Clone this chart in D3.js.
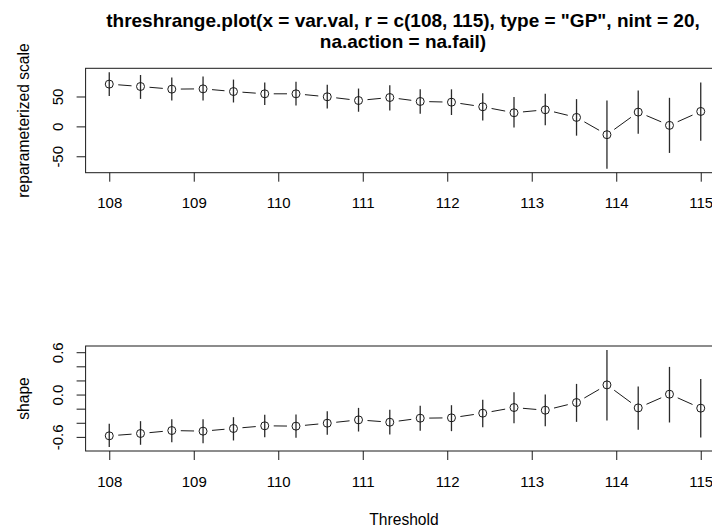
<!DOCTYPE html>
<html>
<head>
<meta charset="utf-8">
<script src="https://cdn.jsdelivr.net/npm/d3@7"></script>
<style>
  html, body { margin: 0; padding: 0; background: #fff; }
  svg text { font-family: "Liberation Sans", Arial, Helvetica, sans-serif; fill: #000; }
</style>
</head>
<body>
<svg id="chart" width="712" height="530"></svg>
<script>
// ---- data ----
const thresholds = [108.00, 108.37, 108.74, 109.11, 109.47, 109.84, 110.21, 110.58, 110.95, 111.32,
                    111.68, 112.05, 112.42, 112.79, 113.16, 113.53, 113.89, 114.26, 114.63, 115.00];
const scaleEst   = [70.7, 66.7, 62.3, 62.8, 58.3, 54.5, 54.5, 49.5, 43.3, 48.3,
                    41.7, 40.5, 32.8, 22.8, 27.8, 15.0, -13.9, 23.9, 1.7, 25.0];
const scaleLow   = [51.0, 46.0, 43.3, 43.3, 40.0, 35.6, 35.0, 30.0, 24.5, 26.7,
                    21.0, 19.0, 10.0, -1.7, 1.7, -15.5, -71.0, -12.2, -44.4, -23.9];
const scaleHigh  = [90.7, 86.0, 81.7, 83.3, 78.3, 73.3, 74.5, 69.5, 63.3, 69.0,
                    62.2, 62.0, 55.6, 49.0, 54.5, 45.6, 43.3, 60.0, 47.8, 73.3];
const shapeEst   = [-0.585, -0.552, -0.510, -0.519, -0.481, -0.443, -0.448, -0.406, -0.359, -0.392,
                    -0.335, -0.330, -0.264, -0.184, -0.222, -0.113, 0.137, -0.189, 0.005, -0.193];
const shapeLow   = [-0.745, -0.712, -0.675, -0.689, -0.651, -0.604, -0.613, -0.571, -0.524, -0.566,
                    -0.514, -0.519, -0.462, -0.406, -0.448, -0.387, -0.368, -0.500, -0.396, -0.609];
const shapeHigh  = [-0.415, -0.377, -0.349, -0.349, -0.321, -0.288, -0.283, -0.236, -0.189, -0.217,
                    -0.160, -0.151, -0.075, 0.033, 0.000, 0.151, 0.633, 0.113, 0.392, 0.222];
const xTicks      = [108, 109, 110, 111, 112, 113, 114, 115];
const scaleTicks  = [-50, 0, 50];
const shapeTicks  = [-0.6, -0.4, -0.2, 0.0, 0.2, 0.4, 0.6];
const shapeLabels = ["-0.6", "", "", "0.0", "", "", "0.6"];
const titleLines  = ['threshrange.plot(x = var.val, r = c(108, 115), type = "GP", nint = 20,',
                     'na.action = na.fail)'];
const xLabel = "Threshold";
const yLabels = ["reparameterized scale", "shape"];

// ---- layout ----
const svg = d3.select("#chart");
const plotLeft = 85.6, plotRight = 724.4;
const panels = [
  { top: 68.3, bottom: 172.7, est: scaleEst, low: scaleLow, high: scaleHigh,
    ticks: scaleTicks, labels: scaleTicks.map(String), ylab: yLabels[0] },
  { top: 346, bottom: 451, est: shapeEst, low: shapeLow, high: shapeHigh,
    ticks: shapeTicks, labels: shapeLabels, ylab: yLabels[1] }
];

function padded(lo, hi) { const r = hi - lo; return [lo - 0.04 * r, hi + 0.04 * r]; }

const x = d3.scaleLinear()
  .domain(padded(d3.min(thresholds), d3.max(thresholds)))
  .range([plotLeft, plotRight]);

const ink = "#1a1a1a";
const FS = 15;
const FL = 15.6;

panels.forEach(p => {
  const y = d3.scaleLinear()
    .domain(padded(d3.min(p.low), d3.max(p.high)))
    .range([p.bottom, p.top]);
  const g = svg.append("g");

  // box
  g.append("rect")
    .attr("x", plotLeft).attr("y", p.top)
    .attr("width", plotRight - plotLeft).attr("height", p.bottom - p.top)
    .attr("fill", "none").attr("stroke", ink).attr("stroke-width", 1);

  // x axis
  const xa = g.append("g").attr("transform", `translate(0,${p.bottom})`)
    .call(d3.axisBottom(x).tickValues(xTicks).tickSize(9).tickPadding(0).tickFormat(d3.format("d")));
  xa.select(".domain").remove();
  xa.selectAll("line").attr("stroke", ink);
  xa.selectAll("text").attr("y", 35.5).attr("dy", null)
    .style("font-size", FS + "px").style("font-family", '"Liberation Sans", Arial, sans-serif');

  // y axis
  const ya = g.append("g").attr("transform", `translate(${plotLeft},0)`)
    .call(d3.axisLeft(y).tickValues(p.ticks).tickSize(9).tickFormat((d, i) => p.labels[i]));
  ya.select(".domain").remove();
  ya.selectAll("line").attr("stroke", ink);
  ya.selectAll("text")
    .attr("x", null).attr("dy", null)
    .attr("text-anchor", "middle")
    .attr("transform", "translate(-23,0) rotate(-90)")
    .style("font-size", FS + "px").style("font-family", '"Liberation Sans", Arial, sans-serif');

  // y label
  g.append("text")
    .attr("transform", `translate(28.5,${(p.top + p.bottom) / 2}) rotate(-90)`)
    .attr("text-anchor", "middle")
    .style("font-size", FL + "px")
    .text(p.ylab);

  // error bars
  g.selectAll(".err").data(thresholds).enter().append("line")
    .attr("x1", d => x(d)).attr("x2", d => x(d))
    .attr("y1", (d, i) => y(p.low[i])).attr("y2", (d, i) => y(p.high[i]))
    .attr("stroke", "#2a2a2a").attr("stroke-width", 1.3);

  // connecting segments with gaps (type = "b")
  const pts = thresholds.map((d, i) => [x(d), y(p.est[i])]);
  const gap = 9;
  for (let i = 0; i < pts.length - 1; i++) {
    const [x0, y0] = pts[i], [x1, y1] = pts[i + 1];
    const dx = x1 - x0, dy = y1 - y0, L = Math.hypot(dx, dy);
    if (L <= 2 * gap) continue;
    const ux = dx / L, uy = dy / L;
    g.append("line")
      .attr("x1", x0 + ux * gap).attr("y1", y0 + uy * gap)
      .attr("x2", x1 - ux * gap).attr("y2", y1 - uy * gap)
      .attr("stroke", ink).attr("stroke-width", 1);
  }

  // points
  g.selectAll(".pt").data(pts).enter().append("circle")
    .attr("cx", d => d[0]).attr("cy", d => d[1]).attr("r", 4)
    .attr("fill", "none").attr("stroke", ink).attr("stroke-width", 1);
});

// title
svg.append("g").selectAll("text").data(titleLines).enter().append("text")
  .attr("x", 403).attr("y", (d, i) => 26.5 + i * 21.5)
  .attr("text-anchor", "middle")
  .style("font-size", "19px").style("font-weight", "bold")
  .text(d => d);

// x label
svg.append("text")
  .attr("x", 404).attr("y", 525)
  .attr("text-anchor", "middle")
  .style("font-size", FL + "px")
  .text(xLabel);
</script>
</body>
</html>
